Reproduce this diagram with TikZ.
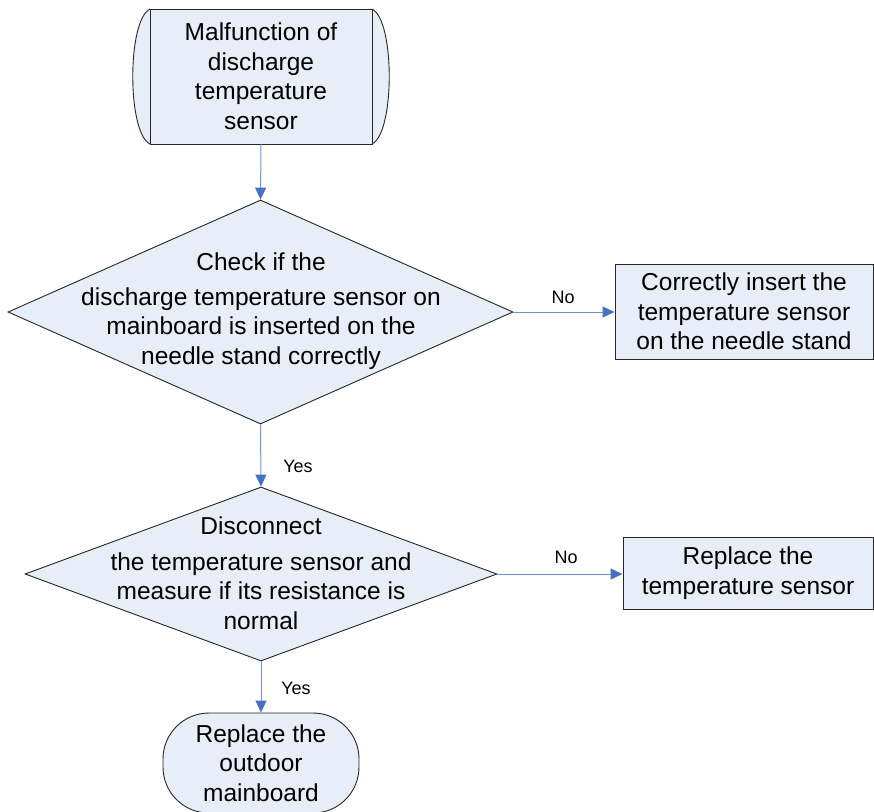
\documentclass[tikz,border=0pt]{standalone}
\usepackage{fontspec}
\setmainfont{Liberation Sans}
\usetikzlibrary{arrows.meta,shapes.geometric}
\definecolor{boxfill}{RGB}{232,238,247}
\definecolor{linecol}{RGB}{110,150,205}
\definecolor{arrowcol}{RGB}{68,114,196}
\begin{document}
\begin{tikzpicture}[x=1pt,y=-1pt,
  txt/.style={font=\fontsize{24.5}{29.5}\selectfont, align=center, inner sep=0pt},
  lbl/.style={font=\fontsize{18}{20}\selectfont, inner sep=0pt},
  shapeline/.style={draw=black!85, line width=0.9pt, fill=boxfill},
  conn/.style={draw=linecol, line width=1pt, -{Triangle[length=12pt,width=11pt,color=arrowcol]}},
]
\useasboundingbox (0,0) rectangle (874,811);

% start shape (terminal with curved sides)
\fill[boxfill] (150,9) .. controls (127,20) and (127,133) .. (150,144) -- (372,144) .. controls (395,133) and (395,20) .. (372,9) -- cycle;
\draw[black!85, line width=0.9pt] (150,9) .. controls (127,20) and (127,133) .. (150,144);
\draw[black!85, line width=0.9pt] (372,9) .. controls (395,20) and (395,133) .. (372,144);
\node[shapeline, rectangle, minimum width=222pt, minimum height=135pt, inner sep=0pt] (start) at (261,76.5) {};
\node[txt] (starttxt) at (261,76) {Malfunction of\\discharge\\temperature\\sensor};

% decision 1
\node[shapeline, diamond, minimum width=505pt, minimum height=224pt, inner sep=0pt] (d1) at (260.5,312) {};
\node[txt] (d1txt) at (261,311) {Check if the\\[5pt]discharge temperature sensor on\\mainboard is inserted on the\\needle stand correctly};

% box 1
\node[shapeline, rectangle, minimum width=258pt, minimum height=95pt, inner sep=0pt, txt] (box1) at (744,311.5) {Correctly insert the\\temperature sensor\\on the needle stand};

% decision 2
\node[shapeline, diamond, minimum width=472pt, minimum height=174pt, inner sep=0pt] (d2) at (261,574) {};
\node[txt] (d2txt) at (261,573) {Disconnect\\[6pt]the temperature sensor and\\measure if its resistance is\\normal};

% box 2
\node[shapeline, rectangle, minimum width=250pt, minimum height=72pt, inner sep=0pt, txt] (box2) at (748,573) {Replace the\\temperature sensor};

% end terminal
\node[shapeline, rectangle, rounded corners=46pt, minimum width=196pt, minimum height=100pt, inner sep=0pt, txt] (term) at (261,763) {Replace the\\outdoor\\mainboard};

% connectors
\draw[conn] (start.south) -- (d1.north);
\draw[conn] (d1.east) -- (d1.east -| box1.west);
\draw[conn] (d1.south) -- (d2.north);
\draw[conn] (d2.east) -- (d2.east -| box2.west);
\draw[conn] (d2.south) -- (term.north);

% labels
\node[lbl] (no1) at (563,297) {No};
\node[lbl] (yes1) at (298,466) {Yes};
\node[lbl] (no2) at (566,557) {No};
\node[lbl] (yes2) at (296,688) {Yes};
\end{tikzpicture}
\end{document}
